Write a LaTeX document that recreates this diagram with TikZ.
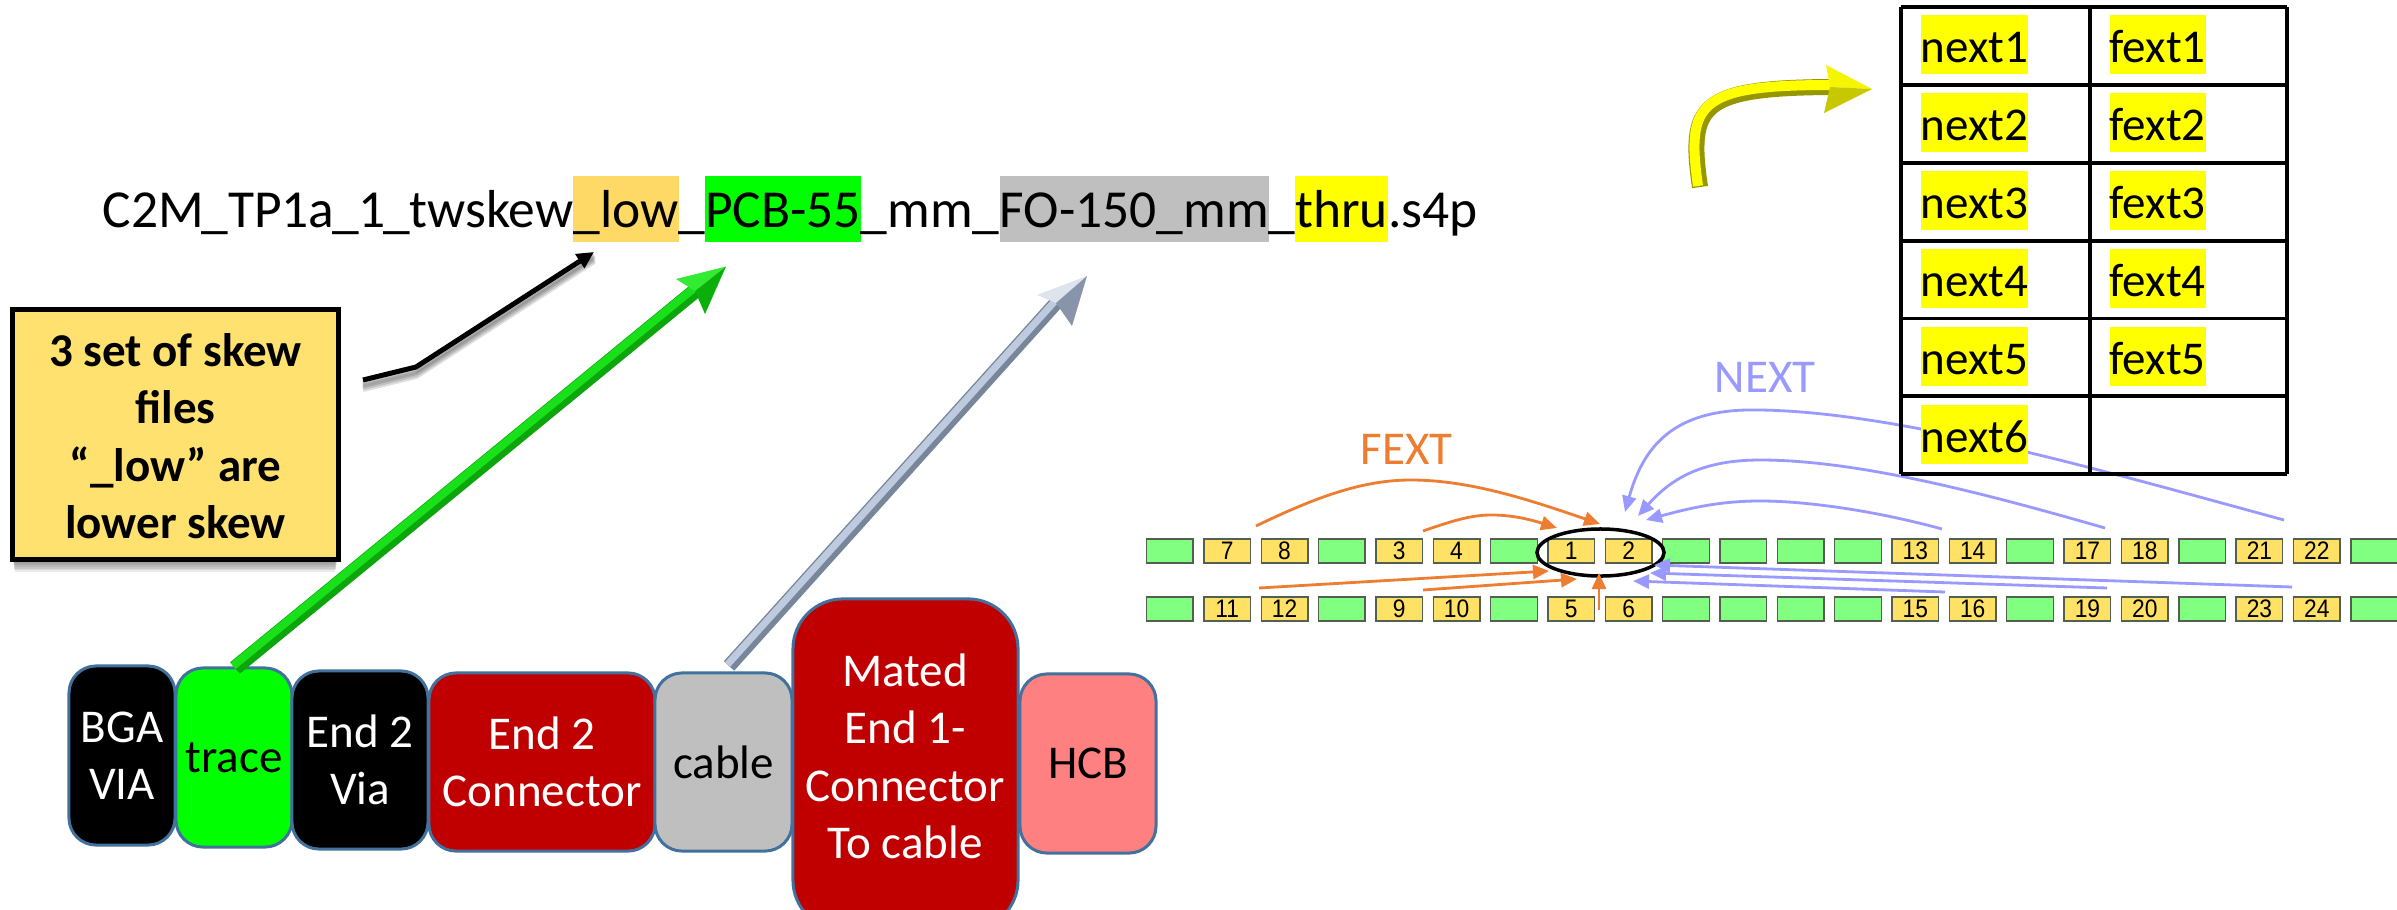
\documentclass[tikz,border=0pt]{standalone}
\usepackage{fontspec}
\setmainfont{Carlito}
\newfontfamily\numfont[FakeStretch=0.9]{Liberation Sans}
\usetikzlibrary{arrows.meta,shapes.geometric}
\definecolor{lowhl}{HTML}{FFD966}
\definecolor{pcbgreen}{HTML}{00FF00}
\definecolor{cablegrey}{HTML}{BFBFBF}
\definecolor{hlyellow}{HTML}{FFFF00}
\definecolor{notebox}{HTML}{FFE170}
\definecolor{blockedge}{HTML}{41719C}
\definecolor{darkred}{HTML}{C00000}
\definecolor{hcbpink}{HTML}{FF8080}
\definecolor{pinyellow}{HTML}{FFE165}
\definecolor{pingreen}{HTML}{80FF80}
\definecolor{pinedge}{HTML}{54604F}
\definecolor{fextc}{HTML}{ED7D31}
\definecolor{nextc}{HTML}{9999FF}
\definecolor{greendark}{RGB}{12,165,12}
\definecolor{greenmid}{RGB}{25,225,25}
\definecolor{greenlight}{RGB}{50,235,50}
\definecolor{greenshade}{RGB}{10,175,10}
\definecolor{greydark}{RGB}{120,134,155}
\definecolor{greymid}{RGB}{190,203,222}
\definecolor{greylight}{RGB}{222,228,238}
\definecolor{greyshade}{RGB}{135,148,170}
\definecolor{yellowdark}{RGB}{150,150,0}
\definecolor{yellowlight}{RGB}{245,245,0}
\definecolor{yellowshade}{RGB}{200,200,0}
\newcommand\hlfile[2]{{\setlength{\fboxsep}{0pt}\colorbox{#1}{\rule[-.15cm]{0pt}{.66cm}#2}}}
\newcommand\hlcell[1]{{\setlength{\fboxsep}{0pt}\colorbox{hlyellow}{\rule[-.12cm]{0pt}{.59cm}#1}}}
\tikzset{
  blockbox/.style={draw=blockedge,line width=.03cm,rounded corners=.27cm,inner sep=0pt,outer sep=0pt,align=center,font=\fontsize{13.37pt}{16.36pt}\selectfont},
  blocktext/.style={inner sep=0pt,align=center,font=\fontsize{13.37pt}{16.36pt}\selectfont},
  notetext/.style={inner sep=0pt,align=center,font=\bfseries\fontsize{13.37pt}{16.36pt}\selectfont},
  filetext/.style={inner sep=0pt,anchor=base west,font=\fontsize{15.2pt}{18pt}\selectfont},
  celltext/.style={inner sep=0pt,anchor=base west,font=\fontsize{13.37pt}{16.36pt}\selectfont},
  pinbox/.style={draw=pinedge,line width=.014cm,minimum width=.466cm,minimum height=.24cm,inner sep=0pt,font=\numfont\fontsize{7.2pt}{8pt}\selectfont},
  groupring/.style={ellipse,draw=black,line width=.035cm,minimum width=1.27cm,minimum height=.47cm,inner sep=0pt},
  fextline/.style={draw=fextc,line width=.028cm,-{Triangle[length=.16cm,width=.14cm]}},
  nextline/.style={draw=nextc,line width=.028cm,-{Triangle[length=.16cm,width=.14cm]}},
  sumlabel/.style={inner sep=0pt,anchor=base west,font=\fontsize{13.37pt}{16.36pt}\selectfont},
  tablerule/.style={draw=black,line width=.035cm},
}
\begin{document}
\begin{tikzpicture}[x=0.01cm,y=-0.01cm]
\clip (0,0) rectangle (2397,909);
\fill[white] (0,0) rectangle (2397,909);

% file name
\node[filetext] (fname) at (102,227) {C2M\kern-.025cm\_TP1a\kern-.025cm\_1\kern-.025cm\_twskew\hlfile{lowhl}{\_low}\_\hlfile{pcbgreen}{PCB-55}\_mm\_\hlfile{cablegrey}{FO-150\_mm}\_\hlfile{hlyellow}{thru}.s4p};

% note box with soft shadow
\foreach \d in {1,...,7}{
  \fill[black,opacity=.08] (12+\d*.4,320) rectangle (338-\d*.4,559+\d*1.9);
}
\node[draw=black,fill=notebox,line width=.05cm,minimum width=3.26cm,minimum height=2.5cm,inner sep=0pt,outer sep=0pt] (note) at (175.5,434.5) {};
\node[notetext] (notet) at (175.5,436) {3 set of skew\\files\\“\_low” are\\lower skew};

% black arrow with shadow
\coordinate (blackstart) at (363,380);
\coordinate (blackbend) at (416,367);
\coordinate (blacktip) at (594,252);
\foreach \d in {3,5,7,9}{
  \draw[black,opacity=.13,line width=.06cm] ([yshift=-\d*.01cm]blackstart) -- ([yshift=-\d*.01cm]blackbend) -- ([yshift=-\d*.01cm]blacktip);
}
\draw[black,line width=.05cm,-{Triangle[length=.17cm,width=.16cm]}] (blackstart) -- (blackbend) -- (blacktip);

% blocks
\node[blockbox,fill=black,text=white,minimum width=1.06cm,minimum height=1.79cm] (bga) at (122,755.5) {BGA\\VIA};
\node[blockbox,fill=pcbgreen,text=black,minimum width=1.16cm,minimum height=1.79cm] (trace) at (234,757.5) {trace};
\node[blockbox,fill=black,text=white,minimum width=1.36cm,minimum height=1.78cm] (via) at (360,760) {End 2\\Via};
\node[blockbox,fill=darkred,text=white,minimum width=2.26cm,minimum height=1.78cm] (conn) at (542,762) {End 2\\Connector};
\node[blockbox,fill=cablegrey,text=black,minimum width=1.37cm,minimum height=1.78cm] (cable) at (723.5,762) {cable};
\node[blockbox,fill=darkred,rounded corners=.5cm,minimum width=2.25cm,minimum height=3.31cm] (mated) at (905.5,764.5) {};
\node[blocktext,text=white] (matedt) at (905,756.5) {Mated\\End 1-\\Connector\\To cable};
\node[blockbox,fill=hcbpink,text=black,minimum width=1.36cm,minimum height=1.79cm] (hcb) at (1088,763.5) {HCB};

% green 3-D arrow
\coordinate (greenstart) at (235,668);
\coordinate (greennotch) at (695,291);
\coordinate (greentip) at (726,266.5);
\coordinate (greenbarba) at (676,279);
\coordinate (greenbarbb) at (705,314);
\draw[draw=greendark,line width=.15cm] (greenstart) -- (greennotch);
\draw[draw=greenmid,line width=.08cm] ([shift={(-.02cm,.02cm)}]greenstart) -- ([shift={(-.02cm,.02cm)}]greennotch);
\fill[greenlight] (greentip) -- (greenbarba) -- (greennotch) -- cycle;
\fill[greenshade] (greentip) -- (greenbarbb) -- (greennotch) -- cycle;

% grey 3-D arrow
\coordinate (greystart) at (729,666);
\coordinate (greynotch) at (1056,303);
\coordinate (greytip) at (1087,276);
\coordinate (greybarba) at (1037,295);
\coordinate (greybarbb) at (1072,326);
\draw[draw=greydark,line width=.14cm] (greystart) -- (greynotch);
\draw[draw=greymid,line width=.07cm] ([shift={(-.015cm,.015cm)}]greystart) -- ([shift={(-.015cm,.015cm)}]greynotch);
\fill[greylight] (greytip) -- (greybarba) -- (greynotch) -- cycle;
\fill[greyshade] (greytip) -- (greybarbb) -- (greynotch) -- cycle;

% yellow 3-D arrow
\coordinate (yelstart) at (1700,187);
\coordinate (yelnotch) at (1830,87);
\coordinate (yeltip) at (1872,89);
\coordinate (yelbarba) at (1826,65);
\coordinate (yelbarbb) at (1824,113);
\draw[draw=yellowdark,line width=.16cm] (yelstart) .. controls (1688,105) and (1700,88) .. (yelnotch);
\draw[draw=hlyellow,line width=.1cm] ([shift={(-.02cm,.01cm)}]yelstart) .. controls (1686,103) and (1698,85) .. ([shift={(0cm,.02cm)}]yelnotch);
\fill[yellowlight] (yeltip) -- (yelbarba) -- (yelnotch) -- cycle;
\fill[yellowshade] (yeltip) -- (yelbarbb) -- (yelnotch) -- cycle;

% pin rows
\foreach \i/\a/\b in {0//,1/7/11,2/8/12,3//,4/3/9,5/4/10,6//,7/1/5,8/2/6,9//,10//,11//,12//,13/13/15,14/14/16,15//,16/17/19,17/18/20,18//,19/21/23,20/22/24,21//}{
  \pgfmathsetmacro{\cx}{1146.5+57.35*\i+23.3}
  \if\relax\a\relax
    \node[pinbox,fill=pingreen] (top\i) at (\cx,551) {};
    \node[pinbox,fill=pingreen] (bot\i) at (\cx,609) {};
  \else
    \node[pinbox,fill=pinyellow] (top\i) at (\cx,551) {\a};
    \node[pinbox,fill=pinyellow] (bot\i) at (\cx,609) {\b};
  \fi
}
\node[groupring] (ring) at (1600.5,552.5) {};

% labels
\node[sumlabel,text=fextc] (fextlab) at (1360,464) {FEXT};
\node[sumlabel,text=nextc] (nextlab) at (1714,392) {NEXT};

% FEXT lines
\coordinate (fa) at (1256,526); \coordinate (fat) at (1600,524);
\coordinate (fb) at (1423,531); \coordinate (fbt) at (1557,528);
\coordinate (fc) at (1259,588); \coordinate (fct) at (1549,571);
\coordinate (fd) at (1423,590); \coordinate (fdt) at (1577,579);
\coordinate (fe) at (1599,610); \coordinate (fet) at (1599,573);
\draw[fextline] (fa) .. controls (1320,495) and (1365,480) .. (1411,480) .. controls (1470,480) and (1530,500) .. (fat);
\draw[fextline] (fb) .. controls (1460,518) and (1475,515) .. (1492,515) .. controls (1515,515) and (1535,521) .. (fbt);
\draw[fextline] (fc) -- (fct);
\draw[fextline] (fd) -- (fdt);
\draw[fextline] (fe) -- (fet);

% NEXT lines
\coordinate (na) at (2284,520); \coordinate (nat) at (1625,512);
\coordinate (nb) at (2105,528); \coordinate (nbt) at (1638,516);
\coordinate (nc) at (1942,529); \coordinate (nct) at (1646,520);
\coordinate (nd) at (2292,587); \coordinate (ndt) at (1654,565);
\coordinate (ne) at (2107,588); \coordinate (net) at (1650,573);
\coordinate (nf) at (1945,592); \coordinate (nft) at (1633,581);
\draw[nextline] (na) .. controls (2100,470) and (1900,412) .. (1760,410) .. controls (1680,408) and (1645,440) .. (nat);
\draw[nextline] (nb) .. controls (1990,495) and (1860,460) .. (1760,460) .. controls (1700,460) and (1670,480) .. (nbt);
\draw[nextline] (nc) .. controls (1880,512) and (1810,501) .. (1760,501) .. controls (1720,501) and (1690,508) .. (nct);
\draw[nextline] (nd) -- (ndt);
\draw[nextline] (ne) -- (net);
\draw[nextline] (nf) -- (nft);

% table
\foreach \y in {7,85,163,241,318.5,396,474}{
  \draw[tablerule] (1901,\y) -- (2287,\y);
}
\foreach \x in {1901,2090,2287}{
  \draw[tablerule] (\x,7) -- (\x,474);
}
\foreach \r/\y in {1/62,2/140,3/218,4/296,5/374}{
  \node[celltext] (next\r) at (1920,\y) {\hlcell{next\r}};
  \node[celltext] (fext\r) at (2109,\y) {\hlcell{fext\r}};
}
\node[celltext] (next6) at (1920,452) {\hlcell{next6}};
\end{tikzpicture}
\end{document}
